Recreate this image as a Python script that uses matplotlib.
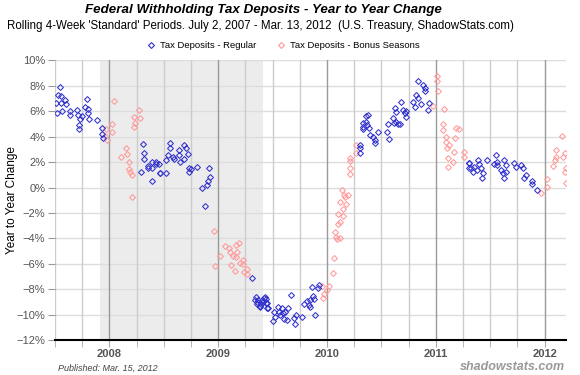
import matplotlib
matplotlib.use("Agg")
import matplotlib.pyplot as plt
from matplotlib.lines import Line2D
import numpy as np

# ---- data (decimal year, % year-to-year change) ----
reg_x = [2007.543, 2007.528, 2007.553, 2007.512, 2007.559, 2007.590, 2007.605, 2007.520, 2007.562,
         2007.636, 2007.642, 2007.698, 2007.713, 2007.728, 2007.719, 2007.719, 2007.744, 2007.796,
         2007.775, 2007.806, 2007.806, 2007.815, 2007.889, 2007.929, 2007.929, 2007.944,
         2008.309, 2008.315, 2008.315, 2008.293, 2008.355, 2008.355, 2008.392, 2008.392, 2008.432,
         2008.432, 2008.389, 2008.460, 2008.469, 2008.469, 2008.521, 2008.555, 2008.555, 2008.537,
         2008.521, 2008.583, 2008.598, 2008.635, 2008.635, 2008.653, 2008.684, 2008.705, 2008.721,
         2008.690, 2008.736, 2008.736, 2008.752, 2008.807, 2008.914, 2008.926, 2008.905, 2008.896,
         2008.853, 2008.883,
         2009.310, 2009.350, 2009.341, 2009.365, 2009.356, 2009.381, 2009.427, 2009.443, 2009.448,
         2009.457, 2009.411, 2009.359, 2009.380,
         2009.400, 2009.422, 2009.440, 2009.446, 2009.391, 2009.508, 2009.502, 2009.523, 2009.545,
         2009.554, 2009.569, 2009.585, 2009.594, 2009.606, 2009.615, 2009.637, 2009.631, 2009.668,
         2009.692, 2009.708, 2009.717, 2009.766, 2009.791, 2009.815, 2009.831, 2009.846, 2009.871,
         2009.862, 2009.883, 2009.892, 2009.923, 2009.914, 2009.840,
         2010.302, 2010.302, 2010.302, 2010.332, 2010.332, 2010.332, 2010.354,
         2010.376, 2010.361, 2010.370, 2010.382, 2010.391, 2010.422, 2010.437, 2010.443, 2010.468,
         2010.553, 2010.566, 2010.560, 2010.606, 2010.615, 2010.636, 2010.651, 2010.666, 2010.621,
         2010.636, 2010.719, 2010.728, 2010.682, 2010.697, 2010.728, 2010.789, 2010.820, 2010.835,
         2010.835, 2010.804, 2010.865, 2010.881, 2010.896, 2010.896, 2010.933, 2010.927,
         2011.300, 2011.300, 2011.308, 2011.323, 2011.338, 2011.354, 2011.384, 2011.399, 2011.378,
         2011.415, 2011.430, 2011.424, 2011.470, 2011.530, 2011.552, 2011.561, 2011.561, 2011.598,
         2011.613, 2011.622, 2011.628, 2011.643, 2011.643, 2011.720, 2011.735, 2011.780, 2011.805,
         2011.826, 2011.811, 2011.887, 2011.887, 2011.927]
reg_y = [7.88, 7.28, 7.23, 6.62, 6.62, 6.88, 6.54, 5.84, 6.02,
         6.02, 5.71, 6.10, 5.71, 5.39, 4.92, 4.61, 5.65, 6.96,
         6.36, 6.18, 5.84, 5.39, 5.29, 4.71, 4.19, 3.93,
         3.40, 2.70, 2.25, 1.20, 1.73, 1.52, 2.04, 1.57, 2.04,
         1.83, 0.52, 1.83, 1.13, 1.13, 1.13, 3.48, 3.09, 2.57,
         2.17, 2.43, 2.25, 2.96, 2.57, 1.99, 3.35, 3.09, 2.62,
         2.25, 1.52, 1.20, 1.47, 1.65, 1.52, 0.86, 0.52, 0.21,
         -0.05, -1.44,
         -7.07, -8.57, -8.83, -8.83, -9.14, -9.36, -8.62, -8.77, -9.04,
         -9.48, -8.96, -9.01, -9.27,
         -8.82, -8.64, -9.08, -9.48, -9.16, -9.74, -10.52, -10.13, -9.35,
         -9.74, -10.00, -9.48, -9.87, -10.31, -9.74, -9.48, -10.39, -8.43,
         -10.26, -10.73, -10.00, -10.18, -9.16, -8.95, -9.21, -8.82, -8.48,
         -7.83, -8.74, -10.00, -7.64, -7.91, -9.35,
         3.35, 3.09, 2.75, 5.05, 4.79, 4.61, 5.63,
         5.71, 5.18, 4.92, 4.66, 4.14, 4.01, 3.74, 3.48, 4.35,
         4.40, 3.82, 5.00, 5.45, 5.05, 5.18, 4.97, 4.97, 6.28,
         5.97, 5.84, 5.58, 6.75, 6.10, 6.02, 6.75, 7.28, 8.38,
         7.07, 6.36, 6.54, 8.06, 7.80, 7.59, 6.62, 6.10,
         1.91, 1.57, 1.91, 1.52, 1.26, 1.65, 2.17, 1.83, 1.39,
         1.57, 1.13, 0.79, 2.17, 1.83, 2.57, 2.04, 1.78, 1.39,
         1.13, 0.73, 2.17, 1.78, 1.26, 1.91, 1.65, 1.78, 1.52,
         0.99, 0.79, 0.52, 0.26, -0.18]

bonus_x = [2008.046, 2008.028, 2008.022, 2007.966, 2007.960, 2007.975, 2008.269, 2008.222, 2008.278,
           2008.238, 2008.228, 2008.154, 2008.160, 2008.105, 2008.182, 2008.176, 2008.191, 2008.207,
           2008.207,
           2008.957, 2009.018, 2008.972, 2009.058, 2009.095, 2009.104, 2009.166, 2009.190, 2009.175,
           2009.135, 2009.166, 2009.113, 2009.156, 2009.196, 2009.227, 2009.227, 2009.236, 2009.267,
           2009.267,
           2009.954, 2009.969, 2009.963, 2010.015, 2010.000, 2010.055, 2010.062, 2010.086, 2010.077,
           2010.092, 2010.117, 2010.098, 2010.123, 2010.145, 2010.102, 2010.123, 2010.148, 2010.138,
           2010.154, 2010.169, 2010.178, 2010.191, 2010.209, 2010.209, 2010.215, 2010.209, 2010.262,
           2010.268,
           2010.972, 2011.012, 2011.012, 2011.024, 2011.073, 2011.064, 2011.064, 2011.095, 2011.095,
           2011.125, 2011.104, 2011.165, 2011.110, 2011.110, 2011.156, 2011.187, 2011.217, 2011.177,
           2011.263, 2011.257,
           2011.963, 2012.018, 2012.018, 2012.091, 2012.079, 2012.100, 2012.100, 2012.155, 2012.171,
           2012.183, 2012.183, 2012.195, 2012.192]
bonus_y = [6.81, 5.00, 4.35, 4.61, 4.06, 3.72, 6.10, 5.52, 5.45,
           5.05, 4.79, 3.09, 2.64, 2.43, 1.99, 1.47, 1.26, 0.99,
           -0.76,
           -3.40, -5.34, -6.15, -4.63, -4.76, -5.03, -4.50, -4.37, -5.03,
           -5.37, -5.42, -6.07, -6.54, -5.94, -5.68, -6.02, -6.60, -6.41,
           -6.81,
           -7.72, -8.38, -8.69, -7.70, -8.04, -6.73, -5.55, -3.85, -3.51,
           -4.03, -3.93, -2.88, -2.67, -2.23, -2.09, -1.10, -1.70, -0.18,
           -0.58, -0.71, -1.31, -0.58, 1.05, 1.52, 2.09, 2.36, 3.35,
           2.70,
           6.41, 8.77, 8.38, 7.59, 6.18, 5.00, 4.53, 4.01, 3.56,
           3.35, 3.09, 2.83, 2.36, 1.60, 2.04, 4.66, 4.61, 3.93,
           2.83, 2.43,
           -0.45, 0.65, 0.08, 2.17, 1.68, 2.96, 2.43, 4.06, 2.43,
           2.70, 1.20, 1.57, 0.34]

year_ticks = [2008, 2009, 2010, 2011, 2012]
y_ticks = list(range(-12, 11, 2))
recession = (2007.915, 2009.416)

title = "Federal Withholding Tax Deposits - Year to Year Change"
subtitle = "Rolling 4-Week 'Standard' Periods. July 2, 2007 - Mar. 13, 2012  (U.S. Treasury, ShadowStats.com)"

BLUE = "#3030cc"
PINK = "#ff9a9a"

plt.rcParams['font.family'] = ['Liberation Sans', 'DejaVu Sans']

fig = plt.figure(figsize=(5.8, 3.75), dpi=100)
ax = fig.add_axes([55/580, 1-340.3/375, 511/580, 280/375])

x0, x1 = 2007.5, 2012.196
ax.set_xlim(x0, x1)
ax.set_ylim(-12, 10)

ax.axvspan(*recession, color="#ececec", zorder=0, lw=0)

for v in y_ticks:
    ax.axhline(v, color="#dddddd", lw=1, zorder=1)
q = np.arange(2007.5, 2012.2, 0.25)
for v in q:
    if abs(v - round(v)) < 1e-6:
        ax.axvline(v, color="#9a9a9a", lw=1, zorder=1)
    else:
        ax.axvline(v, color="#cccccc", lw=1, zorder=1)

ax.plot(bonus_x, bonus_y, ls="none", marker="D", ms=3.0, mfc="none", mec=PINK, mew=0.75, zorder=3)
ax.plot(reg_x, reg_y, ls="none", marker="D", ms=3.0, mfc="none", mec=BLUE, mew=0.75, zorder=4)

for s in ["top", "right", "left"]:
    ax.spines[s].set_visible(False)
ax.spines["bottom"].set_color("black")
ax.spines["bottom"].set_linewidth(1.5)
ax.spines["bottom"].set_zorder(5)

ax.set_yticks(y_ticks)
ax.set_yticklabels([f"{v}%".replace("-", "\u2212") for v in y_ticks], color="#555555", fontsize=8)
ax.tick_params(axis="y", length=5, color="#999999", pad=2)
ax.set_xticks(year_ticks)
ax.set_xticklabels([str(y) for y in year_ticks], color="#555555", fontsize=8, fontweight="bold")
ax.set_xticks(q, minor=True)
ax.tick_params(axis="x", which="both", length=5, color="#aaaaaa", pad=1.5)

fig.text(12/580, 1-200/375, "Year to Year Change", rotation=90, ha="center", va="center", fontsize=8.5)

fig.text(263/580, 1-10/375, title, ha="center", va="center", fontsize=9.6, fontweight="bold", style="italic")
fig.text(260/580, 1-26/375, subtitle, ha="center", va="center", fontsize=8.3)

h1 = Line2D([], [], ls="none", marker="D", ms=3, mfc="none", mec=BLUE, mew=0.8)
h2 = Line2D([], [], ls="none", marker="D", ms=3, mfc="none", mec=PINK, mew=0.8)
fig.legend([h1, h2], ["Tax Deposits - Regular", "Tax Deposits - Bonus Seasons"],
           loc="center", bbox_to_anchor=(283/580, 1-46/375), ncol=2, frameon=False,
           fontsize=6.8, handletextpad=0.4, columnspacing=2.2, handlelength=1)

fig.text(58/580, 1-368/375, "Published: Mar. 15, 2012", ha="left", va="center",
         fontsize=6.5, style="italic", color="#444444")
fig.text(565/580, 1-367/375, "shadowstats.com", ha="right", va="center",
         fontsize=9, style="italic", fontweight="bold", color="#999999")

fig.savefig("out.png", dpi=100)
